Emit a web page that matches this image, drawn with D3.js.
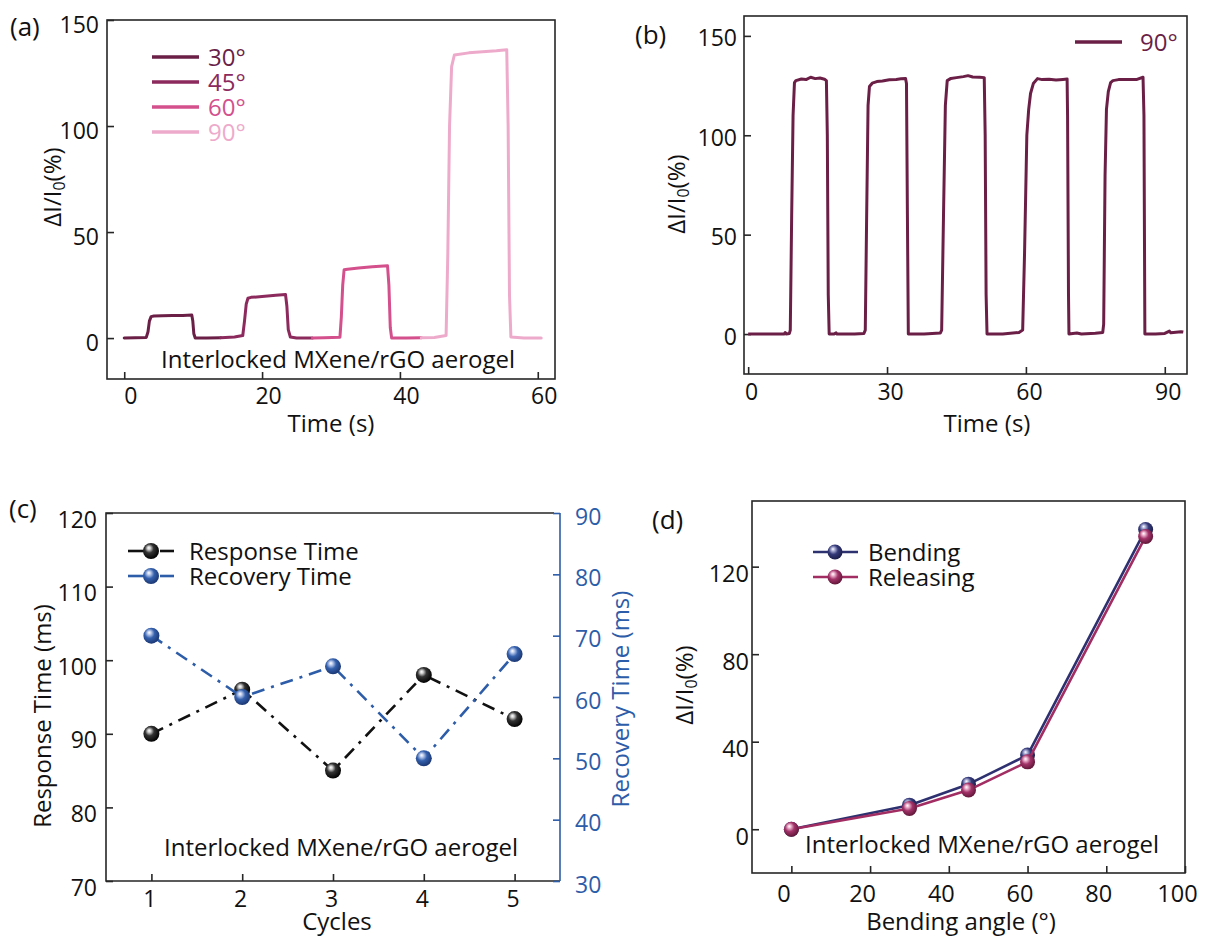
<!DOCTYPE html>
<html><head><meta charset="utf-8">
<script src="https://cdn.jsdelivr.net/npm/d3@7"></script>
<style>
body{margin:0;background:#fff;}
svg{display:block;}
</style></head><body>
<svg id="chart" width="1205" height="939"></svg>
<script>
// ---------------- DATA ----------------
// (a) ΔI/I0 (%) vs time (s), one segment per bending angle
const aAngles = ["30°", "45°", "60°", "90°"];
const aTime30 = [0, 3.2, 3.45, 3.65, 3.9, 4.3, 5.5, 7, 8.5, 9.8, 9.95, 10.1, 10.3, 12, 14];
const aVal30  = [0, 0.3, 3, 8, 10.1, 10.4, 10.5, 10.6, 10.7, 10.9, 8, 2, 0, 0, 0.2];
const aTime45 = [14, 16, 17.2, 17.45, 17.7, 17.95, 18.4, 20, 22, 23.4, 23.6, 23.8, 24.1, 25, 27.3];
const aVal45  = [0.2, 0.5, 1.2, 8, 16, 18.8, 19.2, 19.6, 20.2, 20.6, 15, 4, 0.5, 0, 0];
const aTime60 = [27.3, 29, 31.3, 31.5, 31.7, 31.9, 32.4, 34, 36, 38.2, 38.4, 38.6, 38.8, 41, 43.1];
const aVal60  = [0, 0.1, 0.4, 10, 25, 32.2, 32.5, 33, 33.6, 34.1, 25, 5, 0, 0, 0.1];
const aTime90 = [43.1, 45, 46.7, 46.95, 47.2, 47.5, 47.9, 50, 52, 54, 55.5, 55.7, 55.9, 56.1, 58, 60.5];
const aVal90  = [0.1, 0.3, 1.2, 40, 100, 128, 133.5, 134.5, 135, 135.5, 136, 100, 20, 0.5, 0, 0];
const aTicksX = [0, 20, 40, 60];
const aTicksY = [0, 50, 100, 150];

// (b) five cycles at 90°
const bTime = [0, 7.8, 8.0, 8.2, 8.9, 9.1, 9.4, 9.7, 10.0, 10.3, 11.5, 12.5, 13.5, 14.5, 15.5, 16.5, 16.9, 17.1, 17.3, 17.5,
  18.5, 19.0, 19.2, 23, 25.0, 25.3, 25.6, 25.9, 26.2, 26.8, 27.8, 29, 30.5, 32, 33, 34.0, 34.2, 34.4, 34.6,
  38, 41.5, 41.8, 42.2, 42.6, 43.0, 43.8, 45, 46.5, 47.5, 48.5, 50, 51.0, 51.2, 51.4, 51.6,
  55, 58.5, 59.3, 59.7, 60.2, 60.6, 61.0, 61.6, 62.5, 63.5, 65, 66.5, 68, 68.9, 69.0, 69.2, 69.3,
  71, 72, 75, 76.6, 76.8, 77.1, 77.4, 77.8, 78.3, 78.8, 80, 82, 84, 85.3, 85.5, 85.7,
  88, 90, 91, 91.3, 93.5, 94];
const bVal = [0, 0, 0.8, 0, 0.3, 2, 60, 110, 126.5, 127.5, 128.3, 128.0, 129.2, 128.5, 128.8, 128.2, 127.5, 100, 20, 0,
  0, 0.6, 0, 0, 0.3, 2, 60, 115, 124.5, 126.2, 127.0, 127.3, 127.9, 128.1, 128.4, 128.6, 126, 60, 0,
  0, 0.5, 2, 60, 115, 127.5, 128.6, 129.0, 129.5, 130.0, 129.3, 129.2, 129.0, 100, 20, 0,
  0, 0.8, 2, 40, 100, 113, 121, 126, 128.5, 128, 128.2, 127.8, 128.1, 128.3, 110, 20, 0,
  0.5, 0, 0.4, 0.8, 5, 80, 113, 122, 126.5, 127.5, 128, 128, 128.1, 129.2, 110, 0,
  0, 0.3, 1.5, 0.6, 1.2, 1.0];
const bTicksX = [0, 30, 60, 90];
const bTicksY = [0, 50, 100, 150];

// (c) response / recovery time per cycle
const cCycles   = [1, 2, 3, 4, 5];
const cResponse = [90, 96, 85, 98, 92];
const cRecovery = [70, 60, 65, 50, 67];
const cTicksYL  = [70, 80, 90, 100, 110, 120];
const cTicksYR  = [30, 40, 50, 60, 70, 80, 90];

// (d) ΔI/I0 vs bending angle
const dAngles    = [0, 30, 45, 60, 90];
const dBending   = [0, 11, 20.6, 33.9, 137];
const dReleasing = [0, 9.5, 17.9, 30.8, 133.8];
const dTicksX = [0, 20, 40, 60, 80, 100];
const dTicksY = [0, 40, 80, 120];

// ---------------- STYLE ----------------
const FONT = '"Open Sans", "Noto Sans", sans-serif';
const AX = "#262626";
const aColors = ["#6b1f47", "#8c2a5d", "#d4508d", "#eeaacb"];
const bColor = "#6b1f47";
const cBlack = "#111111", cBlue = "#2d5ca8";
const dNavy = "#2e3170", dPink = "#a12d63";

const svg = d3.select("#chart");
svg.append("rect").attr("width", 1205).attr("height", 939).attr("fill", "#fff");

// sphere gradients
const defs = svg.append("defs");
function sphere(id, stops) {
  const g = defs.append("radialGradient").attr("id", id)
    .attr("cx", "0.42").attr("cy", "0.40").attr("r", "0.62").attr("fx", "0.36").attr("fy", "0.30");
  stops.forEach(([o, c]) => g.append("stop").attr("offset", o).attr("stop-color", c));
}
sphere("gBlack", [[0, "#ffffff"], [0.16, "#cfcfcf"], [0.45, "#333"], [1, "#000"]]);
sphere("gBlue", [[0, "#ffffff"], [0.16, "#c6d3f0"], [0.5, "#3460ad"], [1, "#1a3570"]]);
sphere("gNavy", [[0, "#ffffff"], [0.16, "#b9bddf"], [0.5, "#353a7a"], [1, "#1b1d48"]]);
sphere("gPink", [[0, "#ffffff"], [0.16, "#f0bfd6"], [0.5, "#a3336a"], [1, "#5e1636"]]);

function txt(x, y, s, opt = {}) {
  return svg.append("text").attr("x", x).attr("y", y).text(s)
    .attr("font-family", FONT).attr("font-size", opt.fs || 24)
    .attr("fill", opt.fill || "#111").attr("text-anchor", opt.anchor || "start");
}
function yTitle(x, y, main, sub, rest, opt = {}) {
  const t = svg.append("text").attr("transform", `translate(${x},${y}) rotate(-90)`)
    .attr("font-family", FONT).attr("font-size", opt.fs || 24).attr("fill", opt.fill || "#111")
    .attr("text-anchor", "middle");
  t.append("tspan").text(main);
  if (sub) {
    t.append("tspan").text(sub).attr("font-size", 16).attr("baseline-shift", "-28%");
    t.append("tspan").text(rest);
  }
  return t;
}
function bottomAxis(scale, ticks, y, opt) {
  const g = svg.append("g").attr("transform", `translate(0,${y})`)
    .call(d3.axisBottom(scale).tickValues(ticks).tickFormat(d3.format("d")).tickSizeInner(-7).tickSizeOuter(0));
  g.select(".domain").remove();
  g.selectAll(".tick line").attr("stroke", opt.color || AX).attr("stroke-width", 1.6);
  g.selectAll(".tick text").attr("dy", null).attr("y", opt.ty).attr("x", opt.dx || 0)
    .attr("font-family", FONT).attr("font-size", opt.fs || 23).attr("fill", opt.color || "#111");
}
function leftAxis(scale, ticks, x, opt) {
  const g = svg.append("g").attr("transform", `translate(${x},0)`)
    .call(d3.axisLeft(scale).tickValues(ticks).tickFormat(d3.format("d")).tickSizeInner(-7).tickSizeOuter(0));
  g.select(".domain").remove();
  g.selectAll(".tick line").attr("stroke", opt.color || AX).attr("stroke-width", 1.6);
  g.selectAll(".tick text").attr("dy", null).attr("x", -opt.gap).attr("y", opt.ty)
    .attr("font-family", FONT).attr("font-size", opt.fs || 23).attr("fill", opt.color || "#111");
}
function rightAxis(scale, ticks, x, opt) {
  const g = svg.append("g").attr("transform", `translate(${x},0)`)
    .call(d3.axisRight(scale).tickValues(ticks).tickFormat(d3.format("d")).tickSizeInner(-7).tickSizeOuter(0));
  g.select(".domain").remove();
  g.selectAll(".tick line").attr("stroke", opt.color).attr("stroke-width", 1.6);
  g.selectAll(".tick text").attr("dy", null).attr("x", opt.gap).attr("y", opt.ty)
    .attr("font-family", FONT).attr("font-size", opt.fs || 23).attr("fill", opt.color);
}
function box(l, t, r, b) {
  svg.append("rect").attr("x", l).attr("y", t).attr("width", r - l).attr("height", b - t)
    .attr("fill", "none").attr("stroke", AX).attr("stroke-width", 1.6);
}
function zip(xs, ys) { return xs.map((x, i) => [x, ys[i]]); }

// ---------------- PANEL A ----------------
{
  const L = 107, T = 20, R = 555, B = 379;
  const x = d3.scaleLinear().domain([-2.5, 62.5]).range([L, R]);
  const y = d3.scaleLinear().domain([-19.3, 150]).range([B, T]);
  box(L, T, R, B);
  bottomAxis(x, aTicksX, B, { ty: 25, dx: 6 });
  leftAxis(y, aTicksY, L, { gap: 8, ty: 12 });
  const line = d3.line().x(d => x(d[0])).y(d => y(d[1])).curve(d3.curveLinear);
  const segs = [zip(aTime30, aVal30), zip(aTime45, aVal45), zip(aTime60, aVal60), zip(aTime90, aVal90)];
  segs.forEach((s, i) => svg.append("path").attr("d", line(s)).attr("fill", "none")
    .attr("stroke", aColors[i]).attr("stroke-width", 3).attr("stroke-linejoin", "round").attr("stroke-linecap", "round"));
  // legend
  aAngles.forEach((a, i) => {
    const ly = 57 + i * 25;
    svg.append("line").attr("x1", 152).attr("x2", 199).attr("y1", ly).attr("y2", ly)
      .attr("stroke", aColors[i]).attr("stroke-width", 3.4);
    txt(208, ly + 8.5, a, { fs: 24, fill: aColors[i] });
  });
  txt(161, 368, "Interlocked MXene/rGO aerogel", { fs: 24 });
  txt(331, 432, "Time (s)", { anchor: "middle" });
  yTitle(61, 187, "ΔI/I", "0", "(%)");
  txt(10, 36, "(a)", { fs: 26 });
}

// ---------------- PANEL B ----------------
{
  const L = 744, T = 16, R = 1187, B = 374;
  const x = d3.scaleLinear().domain([-0.9, 94.8]).range([L, R]);
  const y = d3.scaleLinear().domain([-20.1, 160]).range([B, T]);
  box(L, T, R, B);
  bottomAxis(x, bTicksX, B, { ty: 26, dx: 3 });
  leftAxis(y, bTicksY, L, { gap: 7, ty: 10 });
  const line = d3.line().x(d => x(d[0])).y(d => y(d[1]));
  svg.append("path").attr("d", line(zip(bTime, bVal))).attr("fill", "none")
    .attr("stroke", bColor).attr("stroke-width", 3).attr("stroke-linejoin", "round");
  svg.append("line").attr("x1", 1075).attr("x2", 1122).attr("y1", 42).attr("y2", 42)
    .attr("stroke", bColor).attr("stroke-width", 3.4);
  txt(1140, 51, "90°", { fs: 24, fill: bColor });
  txt(987, 432, "Time (s)", { anchor: "middle" });
  yTitle(685, 194, "ΔI/I", "0", "(%)");
  txt(635, 44, "(b)", { fs: 26 });
}

// ---------------- PANEL C ----------------
{
  const L = 106, T = 513, R = 560, B = 881;
  const x = d3.scaleLinear().domain([0.5, 5.5]).range([L, R]);
  const yL = d3.scaleLinear().domain([70, 120]).range([B, T]);
  const yR = d3.scaleLinear().domain([30, 90]).range([B, T]);
  svg.append("path").attr("d", `M${R},${B}H${L}V${T}H${R - 6}`).attr("fill", "none")
    .attr("stroke", AX).attr("stroke-width", 1.6);
  svg.append("line").attr("x1", R).attr("x2", R).attr("y1", T).attr("y2", B)
    .attr("stroke", cBlue).attr("stroke-width", 1.6);
  bottomAxis(x, cCycles, B, { ty: 26, dx: -2, fs: 23 });
  leftAxis(yL, cTicksYL, L, { gap: 9, ty: 14, fs: 23 });
  rightAxis(yR, cTicksYR, R, { gap: 15, ty: 11, fs: 23, color: cBlue });
  const dash = "13,7,3,7";
  const lineL = d3.line().x((d, i) => x(cCycles[i])).y(d => yL(d));
  const lineR = d3.line().x((d, i) => x(cCycles[i])).y(d => yR(d));
  svg.append("path").attr("d", lineL(cResponse)).attr("fill", "none").attr("stroke", cBlack)
    .attr("stroke-width", 2.6).attr("stroke-dasharray", dash);
  svg.selectAll(null).data(cResponse).join("circle")
    .attr("cx", (d, i) => x(cCycles[i])).attr("cy", d => yL(d)).attr("r", 8).attr("fill", "url(#gBlack)");
  svg.append("path").attr("d", lineR(cRecovery)).attr("fill", "none").attr("stroke", cBlue)
    .attr("stroke-width", 2.6).attr("stroke-dasharray", dash);
  svg.selectAll(null).data(cRecovery).join("circle")
    .attr("cx", (d, i) => x(cCycles[i])).attr("cy", d => yR(d)).attr("r", 8).attr("fill", "url(#gBlue)");
  // legend
  [["Response Time", cBlack, "url(#gBlack)"], ["Recovery Time", cBlue, "url(#gBlue)"]].forEach(([name, col, fill], i) => {
    const ly = 551 + i * 25;
    svg.append("line").attr("x1", 128).attr("x2", 145).attr("y1", ly).attr("y2", ly).attr("stroke", col).attr("stroke-width", 2.6);
    svg.append("line").attr("x1", 160).attr("x2", 174).attr("y1", ly).attr("y2", ly).attr("stroke", col).attr("stroke-width", 2.6);
    svg.append("circle").attr("cx", 151).attr("cy", ly).attr("r", 8).attr("fill", fill);
    txt(189, ly + 8.5, name, { fs: 24 });
  });
  txt(164, 856, "Interlocked MXene/rGO aerogel", { fs: 24 });
  txt(337, 930, "Cycles", { anchor: "middle" });
  yTitle(51, 716, "Response Time (ms)");
  yTitle(629, 699, "Recovery Time (ms)", null, null, { fill: cBlue });
  txt(9, 518, "(c)", { fs: 26 });
}

// ---------------- PANEL D ----------------
{
  const L = 752, T = 501, R = 1185, B = 873;
  const x = d3.scaleLinear().domain([-10, 100]).range([L, R]);
  const y = d3.scaleLinear().domain([-20, 150]).range([B, T]);
  box(L, T, R, B);
  bottomAxis(x, dTicksX, B, { ty: 29, dx: -8, fs: 23.5 });
  leftAxis(y, dTicksY, L, { gap: 3, ty: 15, fs: 23.5 });
  const line = d3.line().x((d, i) => x(dAngles[i])).y(d => y(d));
  [[dBending, dNavy, "url(#gNavy)"], [dReleasing, dPink, "url(#gPink)"]].forEach(([vals, col, fill]) => {
    svg.append("path").attr("d", line(vals)).attr("fill", "none").attr("stroke", col)
      .attr("stroke-width", 2.6).attr("stroke-linejoin", "round");
    svg.selectAll(null).data(vals).join("circle")
      .attr("cx", (d, i) => x(dAngles[i])).attr("cy", d => y(d)).attr("r", 7.5).attr("fill", fill);
  });
  [["Bending", dNavy, "url(#gNavy)"], ["Releasing", dPink, "url(#gPink)"]].forEach(([name, col, fill], i) => {
    const ly = 552 + i * 25;
    svg.append("line").attr("x1", 813).attr("x2", 858).attr("y1", ly).attr("y2", ly).attr("stroke", col).attr("stroke-width", 2.6);
    svg.append("circle").attr("cx", 835).attr("cy", ly).attr("r", 7.5).attr("fill", fill);
    txt(868, ly + 8.5, name, { fs: 24 });
  });
  txt(805, 853, "Interlocked MXene/rGO aerogel", { fs: 24 });
  txt(961, 930, "Bending angle (°)", { anchor: "middle" });
  yTitle(693, 685, "ΔI/I", "0", "(%)");
  txt(652, 529, "(d)", { fs: 26 });
}
</script>
</body></html>
